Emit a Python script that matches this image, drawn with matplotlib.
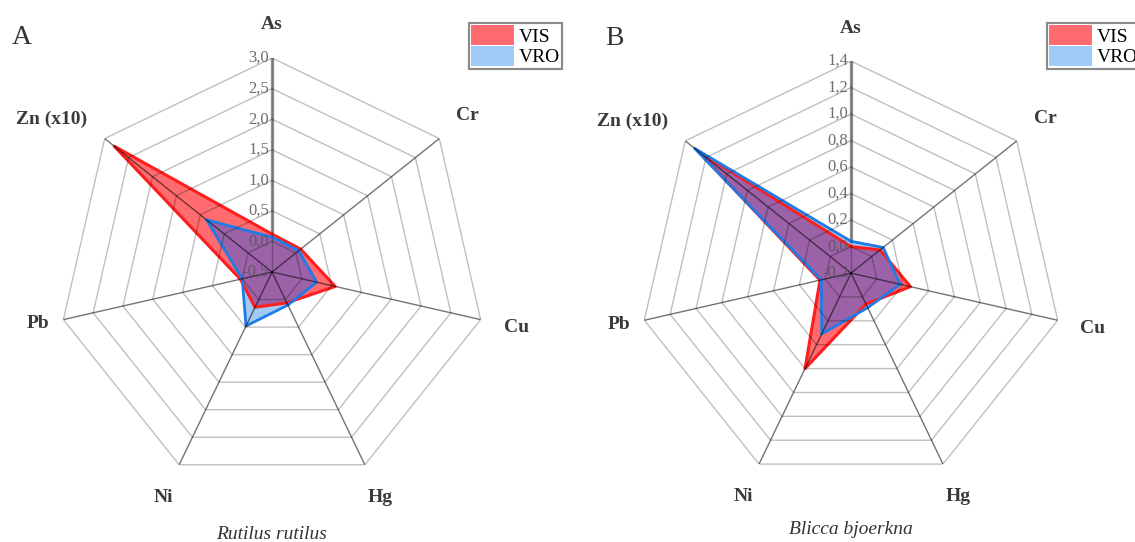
import numpy as np
import matplotlib
matplotlib.use('Agg')
import matplotlib.pyplot as plt
from matplotlib.patches import Patch

plt.rcParams['font.family'] = ['Liberation Serif', 'DejaVu Serif']

# --- data ---
elements = ['As', 'Cr', 'Cu', 'Hg', 'Ni', 'Pb', 'Zn (x10)']

vis_a = [0.12, 0.10, 0.56, 0.06, 0.14, 0.03, 2.80]
vro_a = [0.07, 0.06, 0.25, 0.10, 0.48, 0.00, 0.87]
ticks_a = [-0.5, 0.0, 0.5, 1.0, 1.5, 2.0, 2.5, 3.0]

vis_b = [0.00, 0.08, 0.26, 0.06, 0.60, 0.04, 1.28]
vro_b = [0.04, 0.11, 0.18, 0.09, 0.31, 0.03, 1.31]
ticks_b = [-0.2, 0.0, 0.2, 0.4, 0.6, 0.8, 1.0, 1.2, 1.4]

RED_FILL = '#FF6B6E'
BLUE_FILL = '#A0CBF6'
MIX_FILL = '#9C62A8'
RED_LINE = '#FF1E1E'
BLUE_LINE = '#1F7BE8'

# small nudges (pixels) for the category labels
LABEL_SHIFT = {'As': (0, -3), 'Pb': (10, 4), 'Zn (x10)': (-25, -3)}


def radar(ax, vis, vro, ticks, species, letter, sub_y, letter_xy):
    n = len(elements)
    ang = np.linspace(0, 2 * np.pi, n, endpoint=False)
    angc = np.append(ang, ang[0])
    rmin, rmax = ticks[0], ticks[-1]

    ax.set_theta_zero_location('N')
    ax.set_theta_direction(-1)
    ax.set_ylim(rmin, rmax)
    ax.grid(False)
    ax.set_xticks([])
    ax.set_yticks([])
    ax.spines['polar'].set_visible(False)
    ax.patch.set_alpha(0)

    # value axis (thicker, under the fills)
    ax.plot([0, 0], [rmin, rmax], color='#9a9a9a', lw=2.4, zorder=1)

    v1 = np.append(vis, vis[0])
    v2 = np.append(vro, vro[0])
    ax.fill(angc, v1, color=RED_FILL, lw=0, zorder=2)
    blue = ax.fill(angc, v2, color=BLUE_FILL, lw=0, zorder=3)[0]
    mix = ax.fill(angc, v1, color=MIX_FILL, lw=0, zorder=4)[0]
    mix.set_clip_path(blue)
    ax.plot(angc, v1, color=RED_LINE, lw=2.2, zorder=5)
    ax.plot(angc, v2, color=BLUE_LINE, lw=2, zorder=6)

    # heptagon grid drawn on top, semi-transparent
    for r in ticks[1:]:
        ax.plot(angc, [r] * len(angc), color='k', alpha=0.25, lw=1, zorder=7)
    for a in ang[1:]:
        ax.plot([a, a], [rmin, rmax], color='k', alpha=0.55, lw=1, zorder=7)
    ax.plot([0, 0], [rmin, rmax], color='k', alpha=0.25, lw=1, zorder=7)

    for t in ticks:
        ax.annotate(f'{t:.1f}'.replace('.', ','), xy=(0, t), xytext=(-2, 0),
                    textcoords='offset points', ha='right', va='center',
                    fontsize=12, color='#555555', alpha=0.85, zorder=8,
                    annotation_clip=False)

    span = rmax - rmin
    for a, name in zip(ang, elements):
        dx, dy = LABEL_SHIFT.get(name, (0, 0))
        ax.annotate(name, xy=(a, rmin + 1.17 * span), xytext=(dx, dy),
                    textcoords='offset pixels', ha='center', va='center',
                    fontsize=14, fontweight='bold', color='#3a3a3a',
                    annotation_clip=False)

    ax.text(0.5, sub_y, species, transform=ax.transAxes, ha='center',
            va='center', fontsize=14, style='italic', color='#333333')
    ax.text(letter_xy[0], letter_xy[1], letter, transform=ax.transAxes,
            ha='left', va='center', fontsize=20, color='#333333')


fig = plt.figure(figsize=(11.35, 5.42), dpi=100)
ax_a = fig.add_axes([0.0511, 0.1033, 0.3771, 0.7897], projection='polar')
ax_b = fig.add_axes([0.5630, 0.1050, 0.3736, 0.7823], projection='polar')

radar(ax_a, vis_a, vro_a, ticks_a, 'Rutilus rutilus', 'A', -0.113, (-0.107, 1.047))
radar(ax_b, vis_b, vro_b, ticks_b, 'Blicca bjoerkna', 'B', -0.104, (-0.08, 1.054))

handles = [Patch(fc=RED_FILL, ec='none'), Patch(fc=BLUE_FILL, ec='none')]
for x0 in (469 / 1135, 1047 / 1135):
    leg = fig.legend(handles, ['VIS', 'VRO'], loc='upper left',
                     bbox_to_anchor=(x0, 1 - 23 / 542), fontsize=14,
                     handlelength=2.2, handleheight=1.2, labelspacing=0,
                     handletextpad=0.25, borderpad=0.12, borderaxespad=0,
                     fancybox=False, framealpha=1)
    leg.get_frame().set_edgecolor('#8a8a8a')
    leg.get_frame().set_linewidth(1.5)
    fig.add_artist(leg)

fig.savefig('out.png', dpi=100)
